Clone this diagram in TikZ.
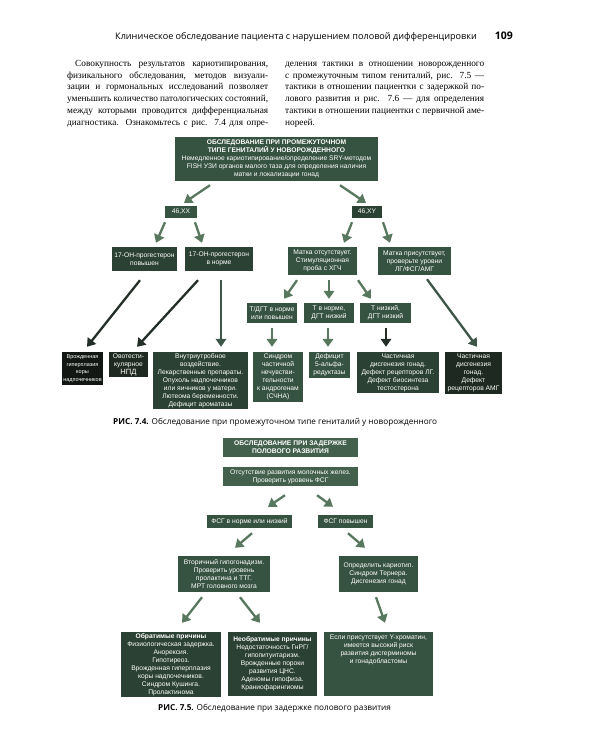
\documentclass[tikz,border=0pt]{standalone}
\usepackage{fontspec}
\setmainfont{Liberation Serif}
\newfontfamily\boxfont{Liberation Sans}
\newfontfamily\headfont{Open Sans}
\usetikzlibrary{arrows.meta,calc}
\definecolor{gA}{HTML}{42604C}
\definecolor{gB}{HTML}{365240}
\definecolor{gC}{HTML}{2B4133}
\definecolor{gD}{HTML}{1D2921}
\definecolor{gE}{HTML}{121713}
\definecolor{arA}{HTML}{58775F}
\definecolor{arB}{HTML}{3E5647}
\definecolor{arK}{HTML}{222E26}
\tikzset{
  bx/.style={fill=#1, text=white, inner sep=0pt, align=center,
     font=\boxfont\fontsize{6.7}{8}\selectfont},
  bsz/.style 2 args={minimum width=#1, minimum height=#2},
  arr/.style={draw=#1, line width=2.3pt, -{Triangle[length=8pt,width=10.5pt]}},
  lineL/.style={inner sep=0pt, anchor=base west, font=\fontsize{9.3}{11.7}\selectfont},
  headtxt/.style={inner sep=0pt, font=\headfont\fontsize{9.1}{11}\selectfont},
  captxt/.style={inner sep=0pt, anchor=base west, font=\headfont\fontsize{8.2}{10}\selectfont}
}
\newcommand{\jl}[2]{\makebox[#1][s]{#2}}
\begin{document}
\begin{tikzpicture}[x=1pt,y=-1pt]
\fill[white] (0,0) rectangle (600,750);
\useasboundingbox (0,0) rectangle (600,750);

% header
\node[headtxt, anchor=base west] (hdr) at (115,39.5) {Клиническое обследование пациента с нарушением половой дифференцировки};
\node[headtxt, anchor=base east, font=\headfont\bfseries\fontsize{10.5}{12}\selectfont] (pg) at (513,39.5) {109};

% body text, left column
\node[lineL] (L1) at (75,66.5) {\jl{193pt}{Совокупность результатов кариотипирования,}};
\node[lineL] (L2) at (67,78.2) {\jl{201pt}{физикального обследования, методов визуали-}};
\node[lineL] (L3) at (67,89.9) {\jl{201pt}{зации и гормональных исследований позволяет}};
\node[lineL] (L4) at (67,101.6) {\jl{201pt}{уменьшить количество патологических состояний,}};
\node[lineL] (L5) at (67,113.3) {\jl{201pt}{между которыми проводится дифференциальная}};
\node[lineL] (L6) at (67,125) {\jl{201pt}{диагностика. Ознакомьтесь с рис. 7.4 для опре-}};
% right column
\node[lineL] (R1) at (285,66.5) {\jl{199pt}{деления тактики в отношении новорожденного}};
\node[lineL] (R2) at (285,78.2) {\jl{199pt}{с промежуточным типом гениталий, рис. 7.5 —}};
\node[lineL] (R3) at (285,89.9) {\jl{199pt}{тактики в отношении пациентки с задержкой по-}};
\node[lineL] (R4) at (285,101.6) {\jl{199pt}{лового развития и рис. 7.6 — для определения}};
\node[lineL] (R5) at (285,113.3) {\jl{199pt}{тактики в отношении пациентки с первичной аме-}};
\node[lineL] (R6) at (285,125) {нореей.};

% ---------- Fig 7.4 ----------
\node[bx=gB, bsz={203}{44}] (top) at (276.5,159) {\textbf{ОБСЛЕДОВАНИЕ ПРИ ПРОМЕЖУТОЧНОМ}\\\textbf{ТИПЕ ГЕНИТАЛИЙ У НОВОРОЖДЕННОГО}\\Немедленное кариотипирование/определение SRY-методом\\FISH УЗИ органов малого таза для определения наличия\\матки и локализации гонад};
\node[bx=gB, bsz={32}{12}] (xx) at (181,212) {46,XX};
\node[bx=gC, bsz={30}{12}] (xy) at (367,212) {46,XY};
\node[bx=gC, bsz={65}{24}] (ohup) at (144.5,259) {17-ОН-прогестерон\\повышен};
\node[bx=gC, bsz={68}{24}] (ohn) at (219,259) {17-ОН-прогестерон\\в норме};
\node[bx=gB, bsz={69}{28}] (mabs) at (322.5,261) {Матка отсутствует.\\Стимуляционная\\проба с ХГЧ};
\node[bx=gB, bsz={73}{28}] (mpres) at (414.5,261) {Матка присутствует,\\проверьте уровни\\ЛГ/ФСГ/АМГ};
\node[bx=gB, bsz={50}{20}] (t1) at (272,313) {Т/ДГТ в норме\\или повышен};
\node[bx=gB, bsz={50}{20}] (t2) at (329,313) {Т в норме,\\ДГТ низкий};
\node[bx=gB, bsz={51}{20}] (t3) at (385.5,313) {Т низкий,\\ДГТ низкий};
\node[bx=gE, bsz={41}{33}, font=\boxfont\fontsize{5.5}{7.6}\selectfont] (b1) at (82.5,368.5) {Врожденная\\гиперплазия\\коры\\надпочечников};
\node[bx=gD, bsz={39}{25}] (b2) at (128.5,364.5) {Овотести-\\кулярное\\{\fontsize{7.6}{8}\selectfont НПД}};
\node[bx=gC, bsz={95}{57}] (b3) at (200.5,380.5) {Внутриутробное\\воздействие.\\Лекарственные препараты.\\Опухоль надпочечников\\или яичников у матери.\\Лютеома беременности.\\Дефицит ароматазы};
\node[bx=gB, bsz={50}{50}] (b4) at (278,377) {Синдром\\частичной\\нечувстви-\\тельности\\к андрогенам\\(СЧНА)};
\node[bx=gB, bsz={41}{26}] (b5) at (329.5,365) {Дефицит\\5-альфа-\\редуктазы};
\node[bx=gC, bsz={82}{41}] (b6) at (398,372.5) {Частичная\\дисгенезия гонад.\\Дефект рецепторов ЛГ.\\Дефект биосинтеза\\тестостерона};
\node[bx=gD, bsz={57}{42}] (b7) at (473.5,373) {Частичная\\дисгенезия\\гонад.\\Дефект\\рецепторов АМГ};

\draw[arr=arA] ($(top.south)+(-66.5,4)$) -- ($(xx.north)+(3,-3)$);
\draw[arr=arA] ($(top.south)+(63.5,4)$) -- ($(xy.north)+(-1,-3)$);
\draw[arr=arA] ($(xx.south)+(-16,4)$) -- ($(ohup.north)+(11.5,-4)$);
\draw[arr=arA] ($(xx.south)+(14,4)$) -- ($(ohn.north)+(-17,-4)$);
\draw[arr=arA] ($(xy.south)+(-15,4)$) -- ($(mabs.north)+(21.5,-4)$);
\draw[arr=arA] ($(xy.south)+(16,4)$) -- ($(mpres.north)+(-24.5,-4)$);
\draw[arr=arA] ($(mabs.south)+(-25.5,5)$) -- ($(t1.north)+(12,-4)$);
\draw[arr=arA] ($(mabs.south)+(6.5,5)$) -- ($(t2.north)+(0,-4)$);
\draw[arr=arA] ($(mabs.south)+(35.5,5)$) -- ($(t3.north)+(-14.5,-4)$);
\draw[arr=arA] ($(t1.south)+(0,5)$) -- ($(b4.north)+(-6,-5)$);
\draw[arr=arA] ($(t2.south)+(-1,5)$) -- ($(b5.north)+(-1.5,-5)$);
\draw[arr=arK] ($(t3.south)+(0.5,5)$) -- ($(b6.north)+(-12,-5)$);
\draw[arr=arB] ($(mpres.south)+(12.5,4)$) -- ($(b7.north)+(3.5,-5)$);
\draw[arr=arK] ($(ohup.south)+(-4.5,9)$) -- ($(b1.north)+(4.5,-5)$);
\draw[arr=arK] ($(ohn.south)+(-21,9)$) -- ($(b2.north)+(8.5,-5)$);
\draw[arr=arB] ($(ohn.south)+(2,9)$) -- ($(b3.north)+(20.5,-5)$);

\node[captxt] (cap4) at (113,424) {\textbf{РИС. 7.4.} Обследование при промежуточном типе гениталий у новорожденного};

% ---------- Fig 7.5 ----------
\node[bx=gA, bsz={135}{19}] (t5a) at (290.5,447.5) {\textbf{ОБСЛЕДОВАНИЕ ПРИ ЗАДЕРЖКЕ}\\\textbf{ПОЛОВОГО РАЗВИТИЯ}};
\node[bx=gA, bsz={135}{19}] (t5b) at (290.5,476.5) {Отсутствие развития молочных желез.\\Проверить уровень ФСГ};
\node[bx=gB, bsz={85}{13}] (f1) at (249.5,521.5) {ФСГ в норме или низкий};
\node[bx=gB, bsz={55}{13}] (f2) at (345.5,521.5) {ФСГ повышен};
\node[bx=gB, bsz={92}{36}] (v1) at (224,574) {Вторичный гипогонадизм.\\Проверить уровень\\пролактина и ТТГ.\\МРТ головного мозга};
\node[bx=gB, bsz={79}{36}] (v2) at (378.5,574) {Определить кариотип.\\Синдром Тернера.\\Дисгенезия гонад};
\node[bx=gC, bsz={100}{65}] (r1) at (171,664.5) {\textbf{Обратимые причины}\\Физиологическая задержка.\\Анорексия.\\Гипотиреоз.\\Врожденная гиперплазия\\коры надпочечников.\\Синдром Кушинга.\\Пролактинома};
\node[bx=gC, bsz={89}{64}] (r2) at (272.5,664) {\textbf{Необратимые причины}\\Недостаточность ГнРГ/\\гипопитуитаризм.\\Врожденные пороки\\развития ЦНС.\\Аденомы гипофиза.\\Краниофарингиомы};
\node[bx=gB, bsz={109}{64}] (r3) at (378.5,664) {};
\node[bx=gB, fill=none, anchor=north] (r3t) at ($(r3.north)+(0,3)$) {Если присутствует Y-хроматин,\\имеется высокий риск\\развития дисгерминомы\\и гонадобластомы};

\draw[arr=arA] ($(t5b.south)+(-5.5,9)$) -- ($(f1.north)+(18.5,-8)$);
\draw[arr=arA] ($(t5b.south)+(26.5,9)$) -- ($(f2.north)+(-12.5,-8)$);
\draw[arr=arA] ($(f1.south)+(2.5,5)$) -- ($(v1.north)+(11,-8)$);
\draw[arr=arA] ($(f2.south)+(2.5,5)$) -- ($(v2.north)+(-13.5,-8)$);
\draw[arr=arA] ($(v1.south)+(-22,5)$) -- ($(r1.north)+(11,-9)$);
\draw[arr=arA] ($(v1.south)+(16,5)$) -- ($(r2.north)+(-12.5,-9)$);
\draw[arr=arA] ($(v2.south)+(-2.5,5)$) -- ($(r3.north)+(6.5,-9)$);

\node[captxt] (cap5) at (158,710) {\textbf{РИС. 7.5.} Обследование при задержке полового развития};
\end{tikzpicture}
\end{document}
